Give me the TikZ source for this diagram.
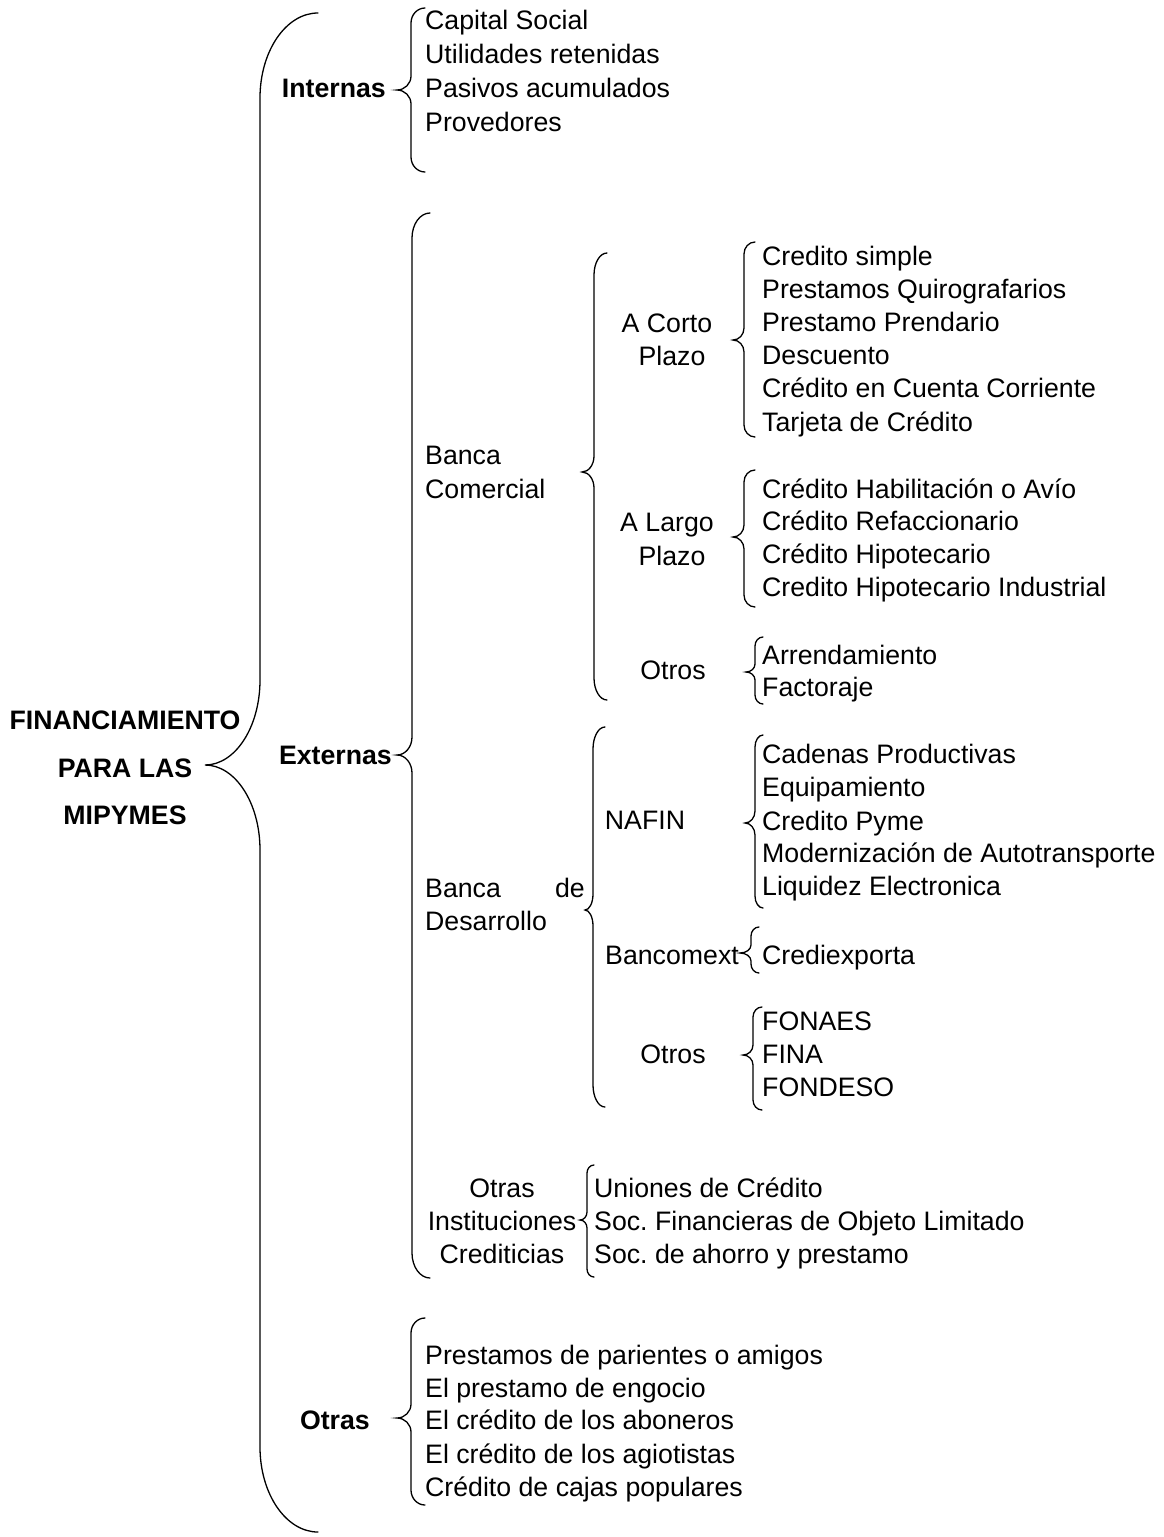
\documentclass[tikz,border=0pt]{standalone}
\usepackage{fontspec}
\setmainfont{Liberation Sans}
\frenchspacing
\newcommand\curlybr[8]{%
 \draw[bracestyle] (#1,#2) .. controls ({#1-0.552*(#1-#3)},#2) and (#3,{#2+0.448*#7}) .. (#3,{#2+#7})
 -- (#3,{#5-#8}) .. controls (#3,{#5-0.448*#8}) and ({#4+0.552*(#3-#4)},#5) .. (#4,#5)
 .. controls ({#4+0.552*(#3-#4)},#5) and (#3,{#5+0.448*#8}) .. (#3,{#5+#8})
 -- (#3,{#6-#7}) .. controls (#3,{#6-0.448*#7}) and ({#1-0.552*(#1-#3)},#6) .. (#1,#6);}
\begin{document}
\begin{tikzpicture}[x=1pt,y=-1pt,
  bracestyle/.style={line width=1.3pt,line cap=round},
  txt/.style={inner sep=0pt,font=\fontsize{26.7}{33}\selectfont\frenchspacing},
  bold/.style={txt,font=\fontsize{26.7}{33}\selectfont\bfseries},
  lw/.style={txt,anchor=base west},
  le/.style={txt,anchor=base east},
  lc/.style={txt,anchor=base}]
\useasboundingbox[fill=white] (0,0) rectangle (1163,1537);
% main title
\node[bold,anchor=base] (t1) at (125,729) {FINANCIAMIENTO};
\node[bold,anchor=base] (t2) at (125,777) {PARA LAS};
\node[bold,anchor=base] (t3) at (125,824) {MIPYMES};
\curlybr{318}{13}{260}{205}{765}{1532}{85}{85}
% level 1
\node[bold,anchor=base east] (int) at (386,97) {Internas};
\node[bold,anchor=base east] (ext) at (392,764) {Externas};
\node[bold,anchor=base east] (otr) at (370,1429) {Otras};
\curlybr{425}{8}{411}{397}{90}{172}{15}{14}
\curlybr{430}{213}{412}{397}{755}{1278}{25}{18}
\curlybr{425}{1318}{411}{397}{1418}{1505}{15}{14}
% internas
\node[lw] (i1) at (425,29) {Capital Social};
\node[lw] (i2) at (425,63) {Utilidades retenidas};
\node[lw] (i3) at (425,97) {Pasivos acumulados};
\node[lw] (i4) at (425,131) {Provedores};
% externas level 2
\node[lw] (bc1) at (425,464) {Banca};
\node[lw] (bc2) at (425,498) {Comercial};
\curlybr{607}{253}{594}{582}{472}{700}{22}{16}
\node[lw] (bd1) at (425,897) {Banca};
\node[le] (bd2) at (585,897) {de};
\node[lw] (bd3) at (425,930) {Desarrollo};
\curlybr{605}{727}{593}{585}{910}{1107}{22}{16}
\node[lc] (oi1) at (502,1197) {Otras};
\node[lc] (oi2) at (502,1230) {Instituciones};
\node[lc] (oi3) at (502,1263) {Crediticias};
\curlybr{594}{1165}{587}{580}{1220}{1277}{8}{8}
\node[lw] (oc1) at (594,1197) {Uniones de Crédito};
\node[lw] (oc2) at (594,1230) {Soc.\ Financieras de Objeto Limitado};
\node[lw] (oc3) at (594,1263) {Soc.\ de ahorro y prestamo};
% banca comercial
\node[lc] (cp1) at (667,332) {A Corto};
\node[lc] (cp2) at (672,365) {Plazo};
\curlybr{755}{242}{744}{733}{340}{437}{12}{12}
\node[lw] (c1) at (762,265) {Credito simple};
\node[lw] (c2) at (762,298) {Prestamos Quirografarios};
\node[lw] (c3) at (762,331) {Prestamo Prendario};
\node[lw] (c4) at (762,364) {Descuento};
\node[lw] (c5) at (762,397) {Crédito en Cuenta Corriente};
\node[lw] (c6) at (762,431) {Tarjeta de Crédito};
\node[lc] (lp1) at (667,531) {A Largo};
\node[lc] (lp2) at (672,565) {Plazo};
\curlybr{755}{470}{744}{733}{537}{607}{12}{12}
\node[lw] (l1) at (762,498) {Crédito Habilitación o Avío};
\node[lw] (l2) at (762,530) {Crédito Refaccionario};
\node[lw] (l3) at (762,563) {Crédito Hipotecario};
\node[lw] (l4) at (762,596) {Credito Hipotecario Industrial};
\node[lc] (o1) at (673,679) {Otros};
\curlybr{763}{637}{755}{746}{672}{704}{9}{8}
\node[lw] (o1a) at (762,664) {Arrendamiento};
\node[lw] (o1b) at (762,696) {Factoraje};
% banca de desarrollo
\node[lc] (naf) at (645,829) {NAFIN};
\curlybr{763}{735}{755}{745}{823}{908}{12}{12}
\node[lw] (n1) at (762,763) {Cadenas Productivas};
\node[lw] (n2) at (762,796) {Equipamiento};
\node[lw] (n3) at (762,830) {Credito Pyme};
\node[lw] (n4) at (762,862) {Modernización de Autotransporte};
\node[lw] (n5) at (762,895) {Liquidez Electronica};
\node[le] (bx) at (739,964) {Bancomext};
\curlybr{759}{927}{751}{740}{953}{973}{9}{8}
\node[lw] (bx1) at (762,964) {Crediexporta};
\node[lc] (o2) at (673,1063) {Otros};
\curlybr{762}{1007}{753}{743}{1055}{1110}{10}{10}
\node[lw] (o2a) at (762,1030) {FONAES};
\node[lw] (o2b) at (762,1063) {FINA};
\node[lw] (o2c) at (762,1096) {FONDESO};
% otras
\node[lw] (p1) at (425,1364) {Prestamos de parientes o amigos};
\node[lw] (p2) at (425,1397) {El prestamo de engocio};
\node[lw] (p3) at (425,1429) {El crédito de los aboneros};
\node[lw] (p4) at (425,1463) {El crédito de los agiotistas};
\node[lw] (p5) at (425,1496) {Crédito de cajas populares};
\end{tikzpicture}
\end{document}
